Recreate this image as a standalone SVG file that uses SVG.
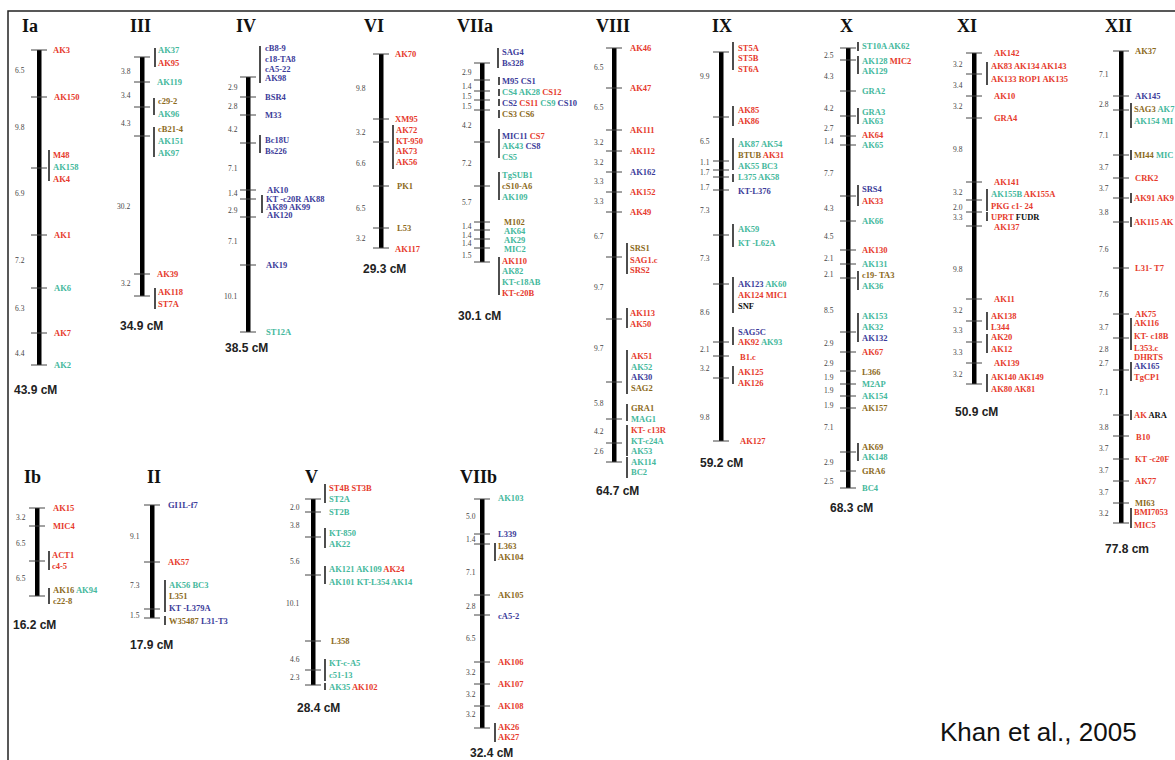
<svg xmlns="http://www.w3.org/2000/svg" width="1175" height="760" viewBox="0 0 1175 760">
<style>
.bar{fill:#000}
.tk{stroke:#444;stroke-width:1;fill:none}
.br{stroke:#222;stroke-width:1.6;fill:none}
.d{font-family:"Liberation Serif",serif;font-size:7.5px;fill:#444}
.t{font-family:"Liberation Serif",serif;font-size:18px;font-weight:bold;fill:#111}
.cm{font-family:"Liberation Sans",Arial,sans-serif;font-size:12px;font-weight:bold;fill:#222}
.m{font-family:"Liberation Serif",serif;font-size:8.5px;font-weight:bold}
.r{fill:#e63a2c}.g{fill:#44b89c}.b{fill:#3c3c9a}.o{fill:#8c6a1b}.k{fill:#111}
</style>
<rect width="1175" height="760" fill="#fff"/>
<path d="M8 760V11H1175" stroke="#222" stroke-width="1.5" fill="none"/>

<g id="chr-Ia">
<text class="t" x="22" y="32">Ia</text>
<rect class="bar" x="37" y="50" width="4.5" height="315"/>
<path class="tk" d="M31 50h16M31 97h16M31 168h16M31 235h16M31 288h16M31 333h16M31 365h16"/>
<path class="br" d="M49 150v31"/>
<g class="d"><text x="15" y="73">6.5</text><text x="15" y="130">9.8</text><text x="15" y="196">6.9</text><text x="15" y="263">7.2</text><text x="15" y="311">6.3</text><text x="15" y="356">4.4</text></g>
<g class="m"><text x="53" y="53" class="r">AK3</text><text x="54" y="100" class="r">AK150</text><text x="53" y="158" class="r">M48</text><text x="53" y="170" class="g">AK158</text><text x="53" y="182" class="r">AK4</text><text x="54" y="238" class="r">AK1</text><text x="54" y="291" class="g">AK6</text><text x="54" y="336" class="r">AK7</text><text x="54" y="368" class="g">AK2</text></g>
<text class="cm" x="14" y="394">43.9 cM</text>
</g>

<g id="chr-III">
<text class="t" x="130" y="32">III</text>
<rect class="bar" x="140" y="57" width="4.5" height="239"/>
<path class="tk" d="M134 57h16M134 82h16M134 107h16M134 136h16M134 274h16M134 296h16"/>
<path class="br" d="M155 48v19M154 98v17M154 127v30M155 288v21"/>
<g class="d"><text x="121" y="74">3.8</text><text x="121" y="98">3.4</text><text x="121" y="126">4.3</text><text x="117" y="209">30.2</text><text x="121" y="286">3.2</text></g>
<g class="m"><text x="158" y="53" class="g">AK37</text><text x="158" y="66" class="r">AK95</text><text x="157" y="85" class="g">AK119</text><text x="158" y="104" class="o">c29-2</text><text x="158" y="117" class="g">AK96</text><text x="158" y="132" class="o">cB21-4</text><text x="158" y="144" class="g">AK151</text><text x="158" y="156" class="g">AK97</text><text x="157" y="277" class="r">AK39</text><text x="158" y="295" class="r">AK118</text><text x="158" y="307" class="r">ST7A</text></g>
<text class="cm" x="120" y="330">34.9 cM</text>
</g>

<g id="chr-IV">
<text class="t" x="236" y="32">IV</text>
<rect class="bar" x="246" y="77" width="4.5" height="255"/>
<path class="tk" d="M240 77h16M240 97h16M240 115h16M240 143h16M240 190h16M240 199h16M240 217h16M240 265h16M240 332h16"/>
<path class="br" d="M260 46v37M260 135v18M262 195v18"/>
<g class="d"><text x="228" y="90">2.9</text><text x="228" y="109">2.8</text><text x="228" y="132">4.2</text><text x="228" y="171">7.1</text><text x="228" y="196">1.4</text><text x="228" y="213">2.9</text><text x="228" y="244">7.1</text><text x="224" y="299">10.1</text></g>
<g class="m b"><text x="265" y="51">cB8-9</text><text x="265" y="62">c18-TA8</text><text x="265" y="72">cA5-22</text><text x="265" y="81">AK98</text><text x="265" y="100">BSR4</text><text x="265" y="118">M33</text><text x="265" y="143">Bc18U</text><text x="265" y="154">Bs226</text><text x="267" y="193">AK10</text><text x="266" y="202">KT -c20R AK88</text><text x="266" y="210">AK89 AK99</text><text x="267" y="218">AK120</text><text x="266" y="268">AK19</text><text x="266" y="335" class="g">ST12A</text></g>
<text class="cm" x="225" y="352">38.5 cM</text>
</g>

<g id="chr-VI">
<text class="t" x="364" y="32">VI</text>
<rect class="bar" x="379" y="54" width="4.5" height="194"/>
<path class="tk" d="M373 54h16M373 119h16M373 142h16M373 186h16M373 228h16M373 248h16"/>
<path class="br" d="M393 125v44"/>
<g class="d"><text x="356" y="91">9.8</text><text x="356" y="135">3.2</text><text x="356" y="166">6.6</text><text x="356" y="211">6.5</text><text x="356" y="241">3.2</text></g>
<g class="m r"><text x="395" y="57">AK70</text><text x="395" y="122">XM95</text><text x="396" y="133">AK72</text><text x="396" y="144">KT-950</text><text x="396" y="154">AK73</text><text x="396" y="165">AK56</text><text x="397" y="189" class="o">PK1</text><text x="397" y="231" class="o">L53</text><text x="395" y="252">AK117</text></g>
<text class="cm" x="363" y="273">29.3 cM</text>
</g>

<g id="chr-VIIa">
<text class="t" x="457" y="32">VIIa</text>
<rect class="bar" x="480" y="63" width="4.5" height="199"/>
<path class="tk" d="M474 63h16M474 80h16M474 91h16M474 100h16M474 110h16M474 142h16M474 186h16M474 222h16M474 230h16M474 239h16M474 248h16M474 262h16"/>
<path class="br" d="M498 48v20M499 77v8M499 89v7M499 99v7M499 110v8M499 129v29M499 172v28M499 257v38"/>
<g class="d"><text x="462" y="75">2.9</text><text x="462" y="89">1.4</text><text x="462" y="99">1.5</text><text x="462" y="109">1.5</text><text x="462" y="128">4.2</text><text x="462" y="166">7.2</text><text x="462" y="205">5.7</text><text x="462" y="229">1.4</text><text x="462" y="238">1.4</text><text x="462" y="246">1.4</text><text x="462" y="258">1.5</text></g>
<g class="m"><text x="502" y="55" class="b">SAG4</text><text x="502" y="66" class="b">Bs328</text><text x="502" y="84" class="b">M95 CS1</text>
<text x="502" y="95"><tspan class="g">CS4 AK28 </tspan><tspan class="r">CS12</tspan></text>
<text x="502" y="106"><tspan class="b">CS2 </tspan><tspan class="r">CS11 </tspan><tspan class="g">CS9 </tspan><tspan class="b">CS10</tspan></text>
<text x="502" y="117" class="o">CS3 CS6</text>
<text x="502" y="139"><tspan class="b">MIC11 </tspan><tspan class="r">CS7</tspan></text>
<text x="502" y="149"><tspan class="g">AK43 </tspan><tspan class="b">CS8</tspan></text>
<text x="502" y="160" class="g">CS5</text><text x="502" y="178" class="g">TgSUB1</text><text x="502" y="189" class="o">cS10-A6</text><text x="502" y="200" class="g">AK109</text>
<text x="504" y="225" class="o">M102</text><text x="504" y="234" class="g">AK64</text><text x="504" y="243" class="g">AK29</text><text x="504" y="252" class="g">MIC2</text>
<text x="502" y="264" class="r">AK110</text><text x="502" y="274" class="g">AK82</text><text x="502" y="285" class="g">KT-c18AB</text><text x="502" y="296" class="r">KT-c20B</text></g>
<text class="cm" x="458" y="320">30.1 cM</text>
</g>

<g id="chr-VIII">
<text class="t" x="596" y="32">VIII</text>
<rect class="bar" x="612" y="48" width="4.5" height="414"/>
<path class="tk" d="M606 48h16M606 88h16M606 130h16M606 151h16M606 172h16M606 192h16M606 212h16M606 257h16M606 319h16M606 382h16M606 419h16M606 443h16M606 462h16"/>
<path class="br" d="M627 243v31M627 308v20M627 350v44M627 404v17M627 425v31M627 457v21"/>
<g class="d"><text x="594" y="70">6.5</text><text x="594" y="110">6.5</text><text x="594" y="145">3.2</text><text x="594" y="165">3.2</text><text x="594" y="184">3.3</text><text x="594" y="204">3.3</text><text x="594" y="239">6.7</text><text x="594" y="290">9.7</text><text x="594" y="351">9.7</text><text x="594" y="406">5.8</text><text x="594" y="434">4.2</text><text x="594" y="454">2.6</text></g>
<g class="m"><text x="630" y="51" class="r">AK46</text><text x="630" y="91" class="r">AK47</text><text x="630" y="133" class="r">AK111</text><text x="630" y="154" class="r">AK112</text><text x="630" y="175" class="b">AK162</text><text x="630" y="195" class="r">AK152</text><text x="630" y="215" class="r">AK49</text>
<text x="630" y="251" class="o">SRS1</text><text x="630" y="263" class="r">SAG1.c</text><text x="630" y="273" class="r">SRS2</text><text x="630" y="316" class="r">AK113</text><text x="630" y="327" class="r">AK50</text>
<text x="631" y="359" class="r">AK51</text><text x="631" y="370" class="g">AK52</text><text x="631" y="380" class="b">AK30</text><text x="631" y="391" class="o">SAG2</text><text x="631" y="411" class="o">GRA1</text><text x="631" y="422" class="g">MAG1</text>
<text x="631" y="433" class="r">KT- c13R</text><text x="631" y="444" class="g">KT-c24A</text><text x="631" y="454" class="g">AK53</text><text x="631" y="465" class="g">AK114</text><text x="631" y="475" class="g">BC2</text></g>
<text class="cm" x="596" y="495">64.7 cM</text>
</g>

<g id="chr-IX">
<text class="t" x="712" y="32">IX</text>
<rect class="bar" x="719" y="52" width="4.5" height="389"/>
<path class="tk" d="M713 52h16M713 117h16M713 161h16M713 170h16M713 177h16M713 190h16M713 235h16M713 284h16M713 342h16M713 356h16M713 378h16M713 441h16"/>
<path class="br" d="M733 42v28M733 106v20M733 138v25M733 162v8M733 174v8M733 224v23M733 277v36M733 327v18M733 366v18"/>
<g class="d"><text x="700" y="79">9.9</text><text x="700" y="144">6.5</text><text x="700" y="165">1.1</text><text x="700" y="175">1.7</text><text x="700" y="190">1.7</text><text x="700" y="213">7.3</text><text x="700" y="261">7.3</text><text x="700" y="315">8.6</text><text x="700" y="352">2.1</text><text x="700" y="371">3.2</text><text x="700" y="420">9.8</text></g>
<g class="m"><text x="738" y="51" class="r">ST5A</text><text x="738" y="61" class="r">ST5B</text><text x="738" y="72" class="r">ST6A</text><text x="738" y="113" class="r">AK85</text><text x="738" y="124" class="r">AK86</text>
<text x="738" y="147" class="g">AK87 AK54</text><text x="738" y="158"><tspan class="o">BTUB </tspan><tspan class="r">AK31</tspan></text><text x="738" y="169" class="g">AK55  BC3</text><text x="738" y="180" class="g">L375  AK58</text><text x="738" y="194" class="b">KT-L376</text>
<text x="738" y="232" class="g">AK59</text><text x="738" y="246" class="g">KT -L62A</text>
<text x="738" y="287"><tspan class="b">AK123 </tspan><tspan class="g">AK60</tspan></text><text x="738" y="298" class="r">AK124 MIC1</text><text x="738" y="309" class="k">SNF</text>
<text x="738" y="335" class="b">SAG5C</text><text x="738" y="345"><tspan class="r">AK92 </tspan><tspan class="g">AK93</tspan></text><text x="740" y="360" class="r">B1.c</text>
<text x="738" y="375" class="r">AK125</text><text x="738" y="386" class="r">AK126</text><text x="740" y="444" class="r">AK127</text></g>
<text class="cm" x="700" y="467">59.2 cM</text>
</g>

<g id="chr-X">
<text class="t" x="840" y="32">X</text>
<rect class="bar" x="846" y="48" width="4.5" height="440"/>
<path class="tk" d="M840 48h16M840 60h16M840 91h16M840 116h16M840 136h16M840 145h16M840 196h16M840 221h16M840 250h16M840 264h16M840 278h16M840 332h16M840 352h16M840 371h16M840 384h16M840 396h16M840 408h16M840 452h16M840 471h16M840 488h16"/>
<path class="br" d="M858 42v9M858 56v18M858 108v16M858 185v21M858 271v19M858 313v29M858 443v18"/>
<g class="d"><text x="824" y="58">2.5</text><text x="824" y="79">4.3</text><text x="824" y="111">4.2</text><text x="824" y="131">2.7</text><text x="824" y="144">1.4</text><text x="824" y="176">7.7</text><text x="824" y="211">4.3</text><text x="824" y="239">4.5</text><text x="824" y="261">2.1</text><text x="824" y="277">2.1</text><text x="824" y="313">8.5</text><text x="824" y="346">2.9</text><text x="824" y="366">2.9</text><text x="824" y="380">1.9</text><text x="824" y="393">1.9</text><text x="824" y="408">1.9</text><text x="824" y="430">7.1</text><text x="824" y="465">2.9</text><text x="824" y="484">2.5</text></g>
<g class="m"><text x="862" y="49" class="g">ST10A AK62</text><text x="862" y="64"><tspan class="g">AK128 </tspan><tspan class="r">MIC2</tspan></text><text x="862" y="74" class="g">AK129</text><text x="862" y="94" class="g">GRA2</text><text x="862" y="115" class="g">GRA3</text><text x="862" y="124" class="g">AK63</text><text x="862" y="138" class="r">AK64</text><text x="862" y="148" class="g">AK65</text>
<text x="862" y="192" class="b">SRS4</text><text x="862" y="204" class="r">AK33</text><text x="862" y="224" class="g">AK66</text><text x="862" y="253" class="r">AK130</text><text x="862" y="267" class="g">AK131</text><text x="862" y="278" class="o">c19- TA3</text><text x="862" y="289" class="g">AK36</text>
<text x="862" y="319" class="g">AK153</text><text x="862" y="330" class="g">AK32</text><text x="862" y="341" class="b">AK132</text><text x="862" y="355" class="r">AK67</text><text x="862" y="375" class="o">L366</text><text x="862" y="387" class="g">M2AP</text><text x="862" y="399" class="g">AK154</text><text x="862" y="411" class="o">AK157</text>
<text x="862" y="450" class="o">AK69</text><text x="862" y="460" class="g">AK148</text><text x="862" y="474" class="o">GRA6</text><text x="862" y="491" class="g">BC4</text></g>
<text class="cm" x="830" y="512">68.3 cM</text>
</g>

<g id="chr-XI">
<text class="t" x="957" y="32">XI</text>
<rect class="bar" x="972" y="53" width="4.5" height="331"/>
<path class="tk" d="M966 53h16M966 74h16M966 96h16M966 118h16M966 182h16M966 200h16M966 212h16M966 226h16M966 299h16M966 321h16M966 342h16M966 363h16M966 384h16"/>
<path class="br" d="M987 62v23M987 189v22M987 212v9M987 312v18M987 334v19M987 374v18"/>
<g class="d"><text x="953" y="67">3.2</text><text x="953" y="88">3.4</text><text x="953" y="109">3.2</text><text x="953" y="152">9.8</text><text x="953" y="195">3.2</text><text x="953" y="210">2.0</text><text x="953" y="220">3.3</text><text x="953" y="272">9.8</text><text x="953" y="313">3.2</text><text x="953" y="333">3.3</text><text x="953" y="355">3.3</text><text x="953" y="377">3.2</text></g>
<g class="m r"><text x="994" y="56">AK142</text><text x="991" y="69">AK83 AK134 AK143</text><text x="991" y="82">AK133 ROP1 AK135</text><text x="994" y="99">AK10</text><text x="994" y="121">GRA4</text><text x="994" y="185">AK141</text>
<text x="991" y="197"><tspan class="g">AK155B </tspan><tspan class="r">AK155A</tspan></text><text x="991" y="209">PKG c1- 24</text><text x="991" y="220"><tspan class="r">UPRT </tspan><tspan class="k">FUDR</tspan></text><text x="994" y="230">AK137</text>
<text x="994" y="302">AK11</text><text x="991" y="319">AK138</text><text x="991" y="330">L344</text><text x="991" y="340">AK20</text><text x="991" y="352">AK12</text><text x="994" y="366">AK139</text><text x="991" y="380">AK140 AK149</text><text x="991" y="392">AK80 AK81</text></g>
<text class="cm" x="955" y="416">50.9 cM</text>
</g>

<g id="chr-XII">
<text class="t" x="1105" y="32">XII</text>
<rect class="bar" x="1119" y="51" width="4.5" height="472"/>
<path class="tk" d="M1113 51h16M1113 96h16M1113 110h16M1113 155h16M1113 178h16M1113 198h16M1113 222h16M1113 268h16M1113 314h16M1113 338h16M1113 370h16M1113 415h16M1113 436h16M1113 459h16M1113 481h16M1113 503h16M1113 523h16"/>
<path class="br" d="M1131 103v25M1131 150v10M1131 193v10M1131 217v10M1131 318v32M1131 362v19M1131 410v10M1131 508v20"/>
<g class="d"><text x="1099" y="77">7.1</text><text x="1099" y="107">2.8</text><text x="1099" y="138">7.1</text><text x="1099" y="170">3.7</text><text x="1099" y="191">3.7</text><text x="1099" y="215">3.8</text><text x="1099" y="252">7.6</text><text x="1099" y="297">7.6</text><text x="1099" y="330">3.7</text><text x="1099" y="352">2.8</text><text x="1099" y="366">2.7</text><text x="1099" y="395">7.1</text><text x="1099" y="430">3.8</text><text x="1099" y="451">3.7</text><text x="1099" y="473">3.7</text><text x="1099" y="495">3.7</text><text x="1099" y="516">3.2</text></g>
<g class="m r"><text x="1135" y="54" class="o">AK37</text><text x="1135" y="99" class="b">AK145</text><text x="1134" y="112"><tspan class="o">SAG3 </tspan><tspan class="g">AK7</tspan></text><text x="1134" y="124" class="g">AK154 MI</text>
<text x="1134" y="158"><tspan class="o">MI44 </tspan><tspan class="g">MIC</tspan></text><text x="1135" y="181">CRK2</text><text x="1134" y="201">AK91 AK9</text><text x="1134" y="225">AK115 AK</text><text x="1135" y="271">L31- T7</text>
<text x="1135" y="317">AK75</text><text x="1134" y="326">AK116</text><text x="1134" y="339">KT- c18B</text><text x="1134" y="351">L353.c</text><text x="1134" y="360">DHRTS</text><text x="1134" y="369" class="b">AK165</text><text x="1134" y="380">TgCP1</text>
<text x="1134" y="418"><tspan class="r">AK </tspan><tspan class="k">ARA</tspan></text><text x="1136" y="440">B10</text><text x="1135" y="462">KT -c20F</text><text x="1135" y="484">AK77</text><text x="1135" y="506" class="o">MI63</text><text x="1134" y="515">BMI7053</text><text x="1134" y="528">MIC5</text></g>
<text class="cm" x="1105" y="553">77.8 cm</text>
</g>

<g id="chr-Ib">
<text class="t" x="24" y="483">Ib</text>
<rect class="bar" x="35" y="508" width="4.5" height="88"/>
<path class="tk" d="M29 508h16M29 526h16M29 561h16M29 596h16"/>
<path class="br" d="M49 551v19M49 588v16"/>
<g class="d"><text x="16" y="520">3.2</text><text x="16" y="546">6.5</text><text x="16" y="581">6.5</text></g>
<g class="m"><text x="53" y="511" class="r">AK15</text><text x="53" y="529" class="r">MIC4</text><text x="52" y="558" class="r">ACT1</text><text x="52" y="569" class="r">c4-5</text><text x="53" y="593"><tspan class="o">AK16 </tspan><tspan class="g">AK94</tspan></text><text x="53" y="604" class="o">c22-8</text></g>
<text class="cm" x="13" y="629">16.2 cM</text>
</g>

<g id="chr-II">
<text class="t" x="147" y="483">II</text>
<rect class="bar" x="150" y="505" width="4.5" height="113"/>
<path class="tk" d="M144 505h16M144 562h16M144 609h16M144 618h16"/>
<path class="br" d="M165 580v32M165 616v9"/>
<g class="d"><text x="130" y="539">9.1</text><text x="130" y="588">7.3</text><text x="130" y="618">1.5</text></g>
<g class="m"><text x="168" y="508" class="b">GI1L-f7</text><text x="168" y="565" class="r">AK57</text><text x="169" y="588" class="g">AK56 BC3</text><text x="169" y="599" class="o">L351</text><text x="169" y="611" class="b">KT -L379A</text><text x="169" y="624"><tspan class="o">W35487  </tspan><tspan class="b">L31-T3</tspan></text></g>
<text class="cm" x="130" y="649">17.9 cM</text>
</g>

<g id="chr-V">
<text class="t" x="305" y="483">V</text>
<rect class="bar" x="311" y="499" width="4.5" height="186"/>
<path class="tk" d="M305 499h16M305 512h16M305 537h16M305 575h16M305 641h16M305 670h16M305 685h16"/>
<path class="br" d="M325 484v19M325 528v20M325 566v18M325 659v22M325 683v7"/>
<g class="d"><text x="290" y="510">2.0</text><text x="290" y="528">3.8</text><text x="290" y="564">5.6</text><text x="286" y="606">10.1</text><text x="290" y="662">4.6</text><text x="290" y="680">2.3</text></g>
<g class="m"><text x="329" y="491" class="r">ST4B ST3B</text><text x="329" y="502" class="g">ST2A</text><text x="329" y="515" class="g">ST2B</text><text x="329" y="536" class="g">KT-850</text><text x="329" y="547" class="g">AK22</text>
<text x="329" y="572"><tspan class="g">AK121  AK109 </tspan><tspan class="r">AK24</tspan></text><text x="329" y="585" class="g">AK101  KT-L354  AK14</text>
<text x="331" y="644" class="o">L358</text><text x="329" y="666" class="g">KT-c-A5</text><text x="329" y="678" class="g">c51-13</text><text x="329" y="690"><tspan class="g">AK35  </tspan><tspan class="r">AK102</tspan></text></g>
<text class="cm" x="297" y="712">28.4 cM</text>
</g>

<g id="chr-VIIb">
<text class="t" x="460" y="483">VIIb</text>
<rect class="bar" x="480" y="499" width="4.5" height="229"/>
<path class="tk" d="M474 499h16M474 534h16M474 544h16M474 595h16M474 615h16M474 662h16M474 684h16M474 706h16M474 728h16"/>
<path class="br" d="M495 543v18M495 723v19"/>
<g class="d"><text x="466" y="519">5.0</text><text x="466" y="542">1.4</text><text x="466" y="575">7.1</text><text x="466" y="609">2.8</text><text x="466" y="641">6.5</text><text x="466" y="675">3.2</text><text x="466" y="697">3.2</text><text x="466" y="717">3.2</text></g>
<g class="m"><text x="498" y="501" class="g">AK103</text><text x="498" y="537" class="b">L339</text><text x="498" y="549" class="o">L363</text><text x="498" y="560" class="o">AK104</text><text x="498" y="598" class="o">AK105</text><text x="498" y="619" class="b">cA5-2</text><text x="498" y="665" class="r">AK106</text><text x="498" y="687" class="r">AK107</text><text x="498" y="709" class="r">AK108</text><text x="498" y="730" class="r">AK26</text><text x="498" y="740" class="r">AK27</text></g>
<text class="cm" x="470" y="757">32.4 cM</text>
</g>

<text id="caption" x="940" y="741" font-family="Liberation Sans, Arial, sans-serif" font-size="26" fill="#111">Khan et al., 2005</text>
</svg>
